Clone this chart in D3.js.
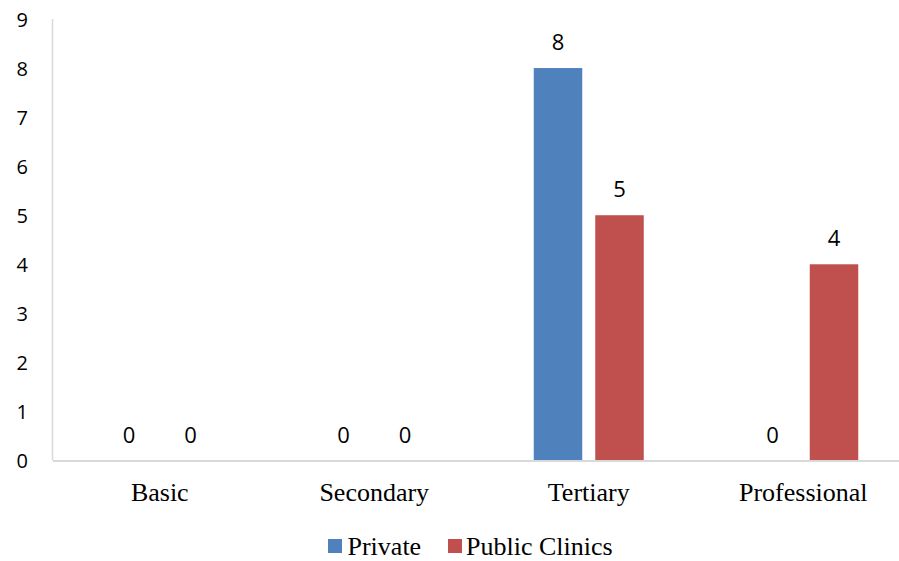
<!DOCTYPE html>
<html>
<head>
<meta charset="utf-8">
<script src="https://cdn.jsdelivr.net/npm/d3@7"></script>
<style>
  html, body { margin: 0; padding: 0; background: #fff; }
  svg { display: block; }
</style>
</head>
<body>
<svg id="chart" width="899" height="561"></svg>
<script>
// Education level by clinic type
const categories = ["Basic", "Secondary", "Tertiary", "Professional"];
const seriesNames = ["Private", "Public Clinics"];
const privateValues = [0, 0, 8, 0];
const publicValues = [0, 0, 5, 4];
const yTicks = [0, 1, 2, 3, 4, 5, 6, 7, 8, 9];
const colors = ["#4f81bd", "#c0504d"];

const svg = d3.select("#chart");
const seriesValues = [privateValues, publicValues];

// Plot extends slightly past the right edge of the canvas
const x = d3.scaleBand().domain(categories).range([52.5, 910.5]).paddingInner(0).paddingOuter(0);
const y = d3.scaleLinear().domain([0, 9]).range([460.5, 19]);

const barW = 48.5, barGap = 13;
const offsets = [-(barGap / 2 + barW), barGap / 2];

// Y axis labels (no ticks)
const yAxis = d3.axisLeft(y).tickValues(yTicks).tickSize(0).tickPadding(0).tickFormat(d3.format("d"));
const gy = svg.append("g").attr("transform", "translate(28,0)").call(yAxis);
gy.select(".domain").remove();
gy.selectAll("text")
  .attr("font-family", "'Open Sans', sans-serif")
  .attr("font-size", 20)
  .attr("fill", "#000")
  .attr("dy", "0.36em");

// Vertical axis line
svg.append("line")
  .attr("x1", 52.5).attr("x2", 52.5)
  .attr("y1", y(9)).attr("y2", y(0))
  .attr("stroke", "#d9d9d9").attr("stroke-width", 1.5);

// Bars
const groups = svg.append("g");
seriesValues.forEach((vals, si) => {
  groups.selectAll(null)
    .data(vals.map((v, i) => ({ cat: categories[i], v })))
    .enter().append("rect")
    .attr("x", d => x(d.cat) + x.bandwidth() / 2 + offsets[si])
    .attr("y", d => y(d.v))
    .attr("width", barW)
    .attr("height", d => y(0) - y(d.v))
    .attr("fill", colors[si]);
});

// Baseline / category axis
const xAxis = d3.axisBottom(x).tickSize(0).tickPadding(0);
const gx = svg.append("g").attr("transform", `translate(0,${y(0)})`).call(xAxis);
gx.select(".domain").attr("stroke", "#d9d9d9").attr("stroke-width", 2);
gx.selectAll("text")
  .attr("font-family", "'Liberation Serif', 'Times New Roman', serif")
  .attr("font-size", 26)
  .attr("fill", "#000")
  .attr("y", 40.5)
  .attr("dy", 0);

// Value labels
seriesValues.forEach((vals, si) => {
  svg.append("g").selectAll("text")
    .data(vals.map((v, i) => ({ cat: categories[i], v })))
    .enter().append("text")
    .attr("x", d => x(d.cat) + x.bandwidth() / 2 + offsets[si] + barW / 2)
    .attr("y", d => y(d.v) - 18)
    .attr("text-anchor", "middle")
    .attr("font-family", "'Open Sans', sans-serif")
    .attr("font-size", 22)
    .attr("fill", "#000")
    .text(d => d.v);
});

// Legend
const legend = svg.append("g");
const legendItems = [
  { name: seriesNames[0], color: colors[0], sx: 328, tx: 347.5 },
  { name: seriesNames[1], color: colors[1], sx: 448, tx: 466 }
];
legendItems.forEach(it => {
  legend.append("rect")
    .attr("x", it.sx).attr("y", 539)
    .attr("width", 14).attr("height", 14)
    .attr("fill", it.color);
  legend.append("text")
    .attr("x", it.tx).attr("y", 554.5)
    .attr("font-family", "'Liberation Serif', 'Times New Roman', serif")
    .attr("font-size", 26)
    .attr("fill", "#000")
    .text(it.name);
});
</script>
</body>
</html>
